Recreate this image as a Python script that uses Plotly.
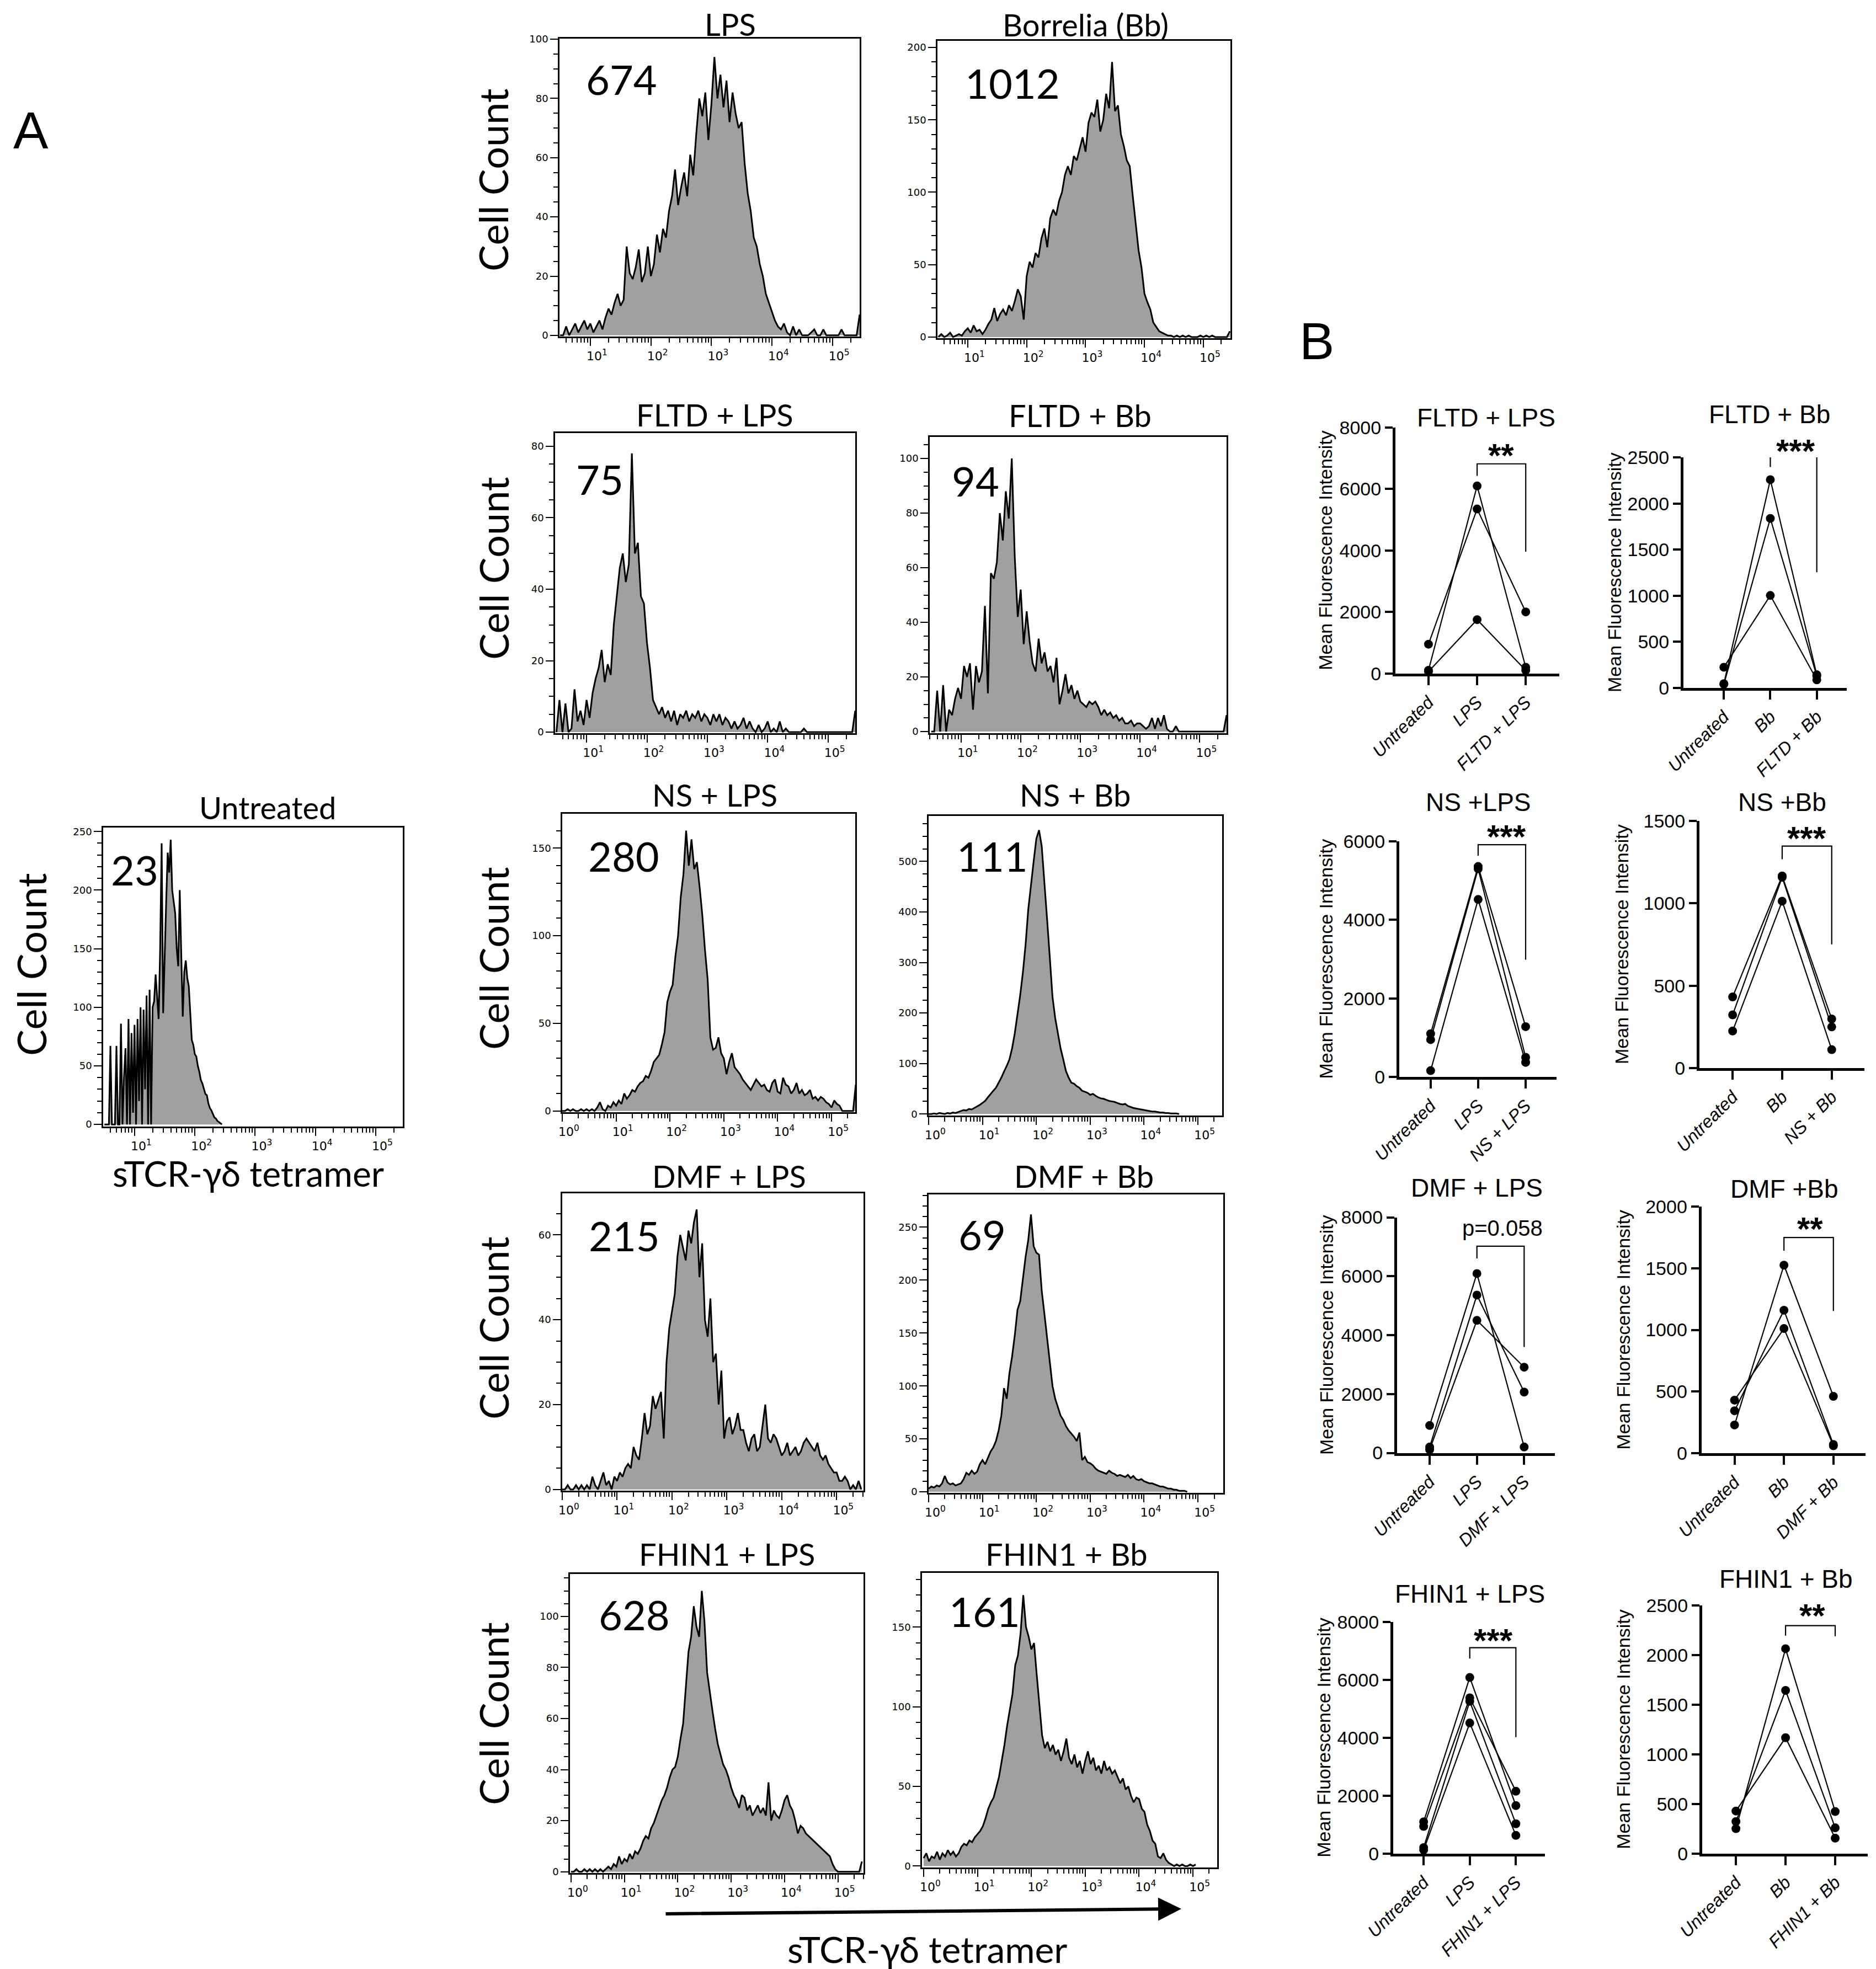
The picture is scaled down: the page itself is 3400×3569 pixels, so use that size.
import math
import plotly.graph_objects as go

W, H = 3400, 3569

# ======================= DATA =======================
# ---- Panel A: sTCR-gd tetramer histograms (cell counts per log10 fluorescence bin) ----
hist_names = ["Untreated", "LPS", "Borrelia (Bb)", "FLTD + LPS", "FLTD + Bb",
              "NS + LPS", "NS + Bb", "DMF + LPS", "DMF + Bb", "FHIN1 + LPS", "FHIN1 + Bb"]
hist_mfi = ["23", "674", "1012", "75", "94", "280", "111", "215", "69", "628", "161"]
hist_log_start = [0.5, 0.5, 0.5, 0.5, 0.5, 0.0, 0.0, 0.0, 0.0, 0.0, 0.0]
hist_log_step = [0.025, 0.05, 0.05, 0.05, 0.05, 0.05, 0.05, 0.05, 0.05, 0.05, 0.05]

counts_untreated = [
    0, 0, 0, 0, 67, 0, 0, 0, 67, 0, 0, 86, 0, 40, 65, 0, 90, 0, 78, 10,
    85, 0, 90, 20, 100, 0, 98, 30, 110, 0, 115, 0,
    100, 105, 128, 110, 90, 150, 240, 95, 150, 190, 232, 215, 243, 200, 190, 180, 150, 135,
    200, 150, 92, 130, 140, 125, 118, 95, 72, 68, 60, 58, 50, 45, 38, 35, 30, 26, 25, 18,
    14, 12, 9, 6, 5, 3, 2, 1, 0]
counts_lps = [
    0, 0, 3, 0, 2, 4, 1, 3, 5, 2,
    4, 1, 3, 5, 2, 6, 9, 7, 11, 14,
    10, 12, 30, 21, 19, 23, 29, 18, 21, 30,
    20, 24, 34, 28, 36, 33, 42, 47, 56, 44,
    50, 55, 47, 61, 54, 68, 80, 74, 82, 66,
    78, 94, 80, 88, 77, 86, 72, 82, 75, 70,
    72, 58, 48, 42, 33, 30, 24, 20, 14, 11,
    8, 5, 3, 2, 4, 1, 0, 3, 0, 2,
    0, 0, 0, 1, 2, 0, 0, 2, 0, 0,
    0, 0, 0, 2, 0, 0, 0, 0, 0, 7]
counts_bb = [
    0, 2, 0, 1, 3, 0, 1, 2, 1, 4,
    6, 3, 8, 4, 5, 2, 5, 9, 12, 20,
    11, 16, 19, 15, 22, 18, 25, 33, 28, 12,
    42, 52, 48, 58, 55, 68, 75, 62, 82, 88,
    84, 94, 100, 112, 118, 112, 125, 122, 130, 138,
    128, 148, 155, 152, 164, 142, 150, 168, 158, 190,
    156, 160, 140, 132, 122, 118, 98, 78, 60, 48,
    30, 24, 19, 10, 7, 4, 3, 2, 1, 1,
    0, 1, 0, 1, 0, 1, 0, 0, 0, 1,
    0, 1, 0, 1, 0, 0, 0, 0, 0, 4]
counts_fltd_lps = [
    0, 9, 0, 8, 0, 1, 12, 3, 6, 2,
    9, 4, 11, 15, 18, 23, 14, 19, 16, 30,
    38, 46, 50, 42, 47, 78, 50, 53, 38, 36,
    25, 18, 9, 7, 5, 7, 4, 6, 3, 6,
    2, 5, 4, 6, 3, 5, 4, 6, 3, 5,
    4, 2, 5, 3, 5, 2, 4, 3, 1, 3,
    1, 2, 4, 1, 3, 1, 0, 2, 0, 1,
    3, 0, 1, 0, 3, 0, 1, 0, 0, 0,
    0, 0, 1, 0, 0, 0, 0, 0, 0, 0,
    0, 0, 0, 0, 0, 0, 0, 0, 0, 6]
counts_fltd_bb = [
    0, 0, 15, 0, 17, 0, 8, 6, 12, 16,
    12, 24, 20, 25, 8, 24, 18, 22, 46, 14,
    58, 56, 62, 80, 70, 88, 78, 100, 64, 42,
    52, 32, 44, 33, 25, 22, 34, 25, 29, 22,
    24, 18, 27, 10, 15, 21, 14, 17, 12, 15,
    11, 10, 9, 11, 10, 11, 9, 6, 8, 6,
    7, 5, 6, 4, 5, 3, 3, 4, 2, 3,
    3, 2, 1, 2, 5, 1, 5, 2, 6, 1,
    0, 0, 2, 0, 0, 0, 0, 0, 0, 0,
    0, 0, 0, 0, 0, 0, 0, 0, 0, 6]
counts_ns_lps = [
    0, 0, 1, 0, 1, 0, 0, 1, 0, 1,
    0, 1, 0, 2, 5, 1, 0, 3, 2, 5,
    3, 6, 4, 10, 7, 9, 12, 11, 14, 16,
    17, 20, 19, 23, 28, 30, 32, 38, 45, 62,
    68, 72, 88, 100, 122, 135, 160, 140, 155, 138,
    142, 128, 112, 92, 75, 42, 35, 36, 42, 33,
    30, 21, 28, 33, 25, 23, 21, 18, 16, 14,
    12, 15, 18, 16, 14, 15, 12, 11, 16, 18,
    11, 10, 19, 15, 14, 10, 12, 16, 10, 12,
    9, 10, 12, 7, 8, 6, 8, 7, 5, 4,
    2, 6, 4, 3, 0, 0, 0, 0, 0, 15]
counts_ns_bb = [
    0, 0, 1, 0, 2, 1, 0, 2, 1, 3,
    2, 4, 6, 8, 7, 10, 9, 12, 15, 18,
    22, 26, 33, 40, 46, 52, 62, 72, 84, 95,
    108, 130, 160, 195, 235, 280, 335, 405, 455, 500,
    545, 562, 530, 462, 385, 310, 232, 190, 158, 130,
    108, 85, 72, 62, 60, 55, 52, 46, 44, 42,
    38, 40, 36, 33, 31, 30, 28, 26, 25, 24,
    22, 20, 19, 20, 16, 14, 12, 11, 10, 9,
    8, 7, 6, 5, 5, 4, 3, 3, 2, 2,
    1, 1, 1, 0]
counts_dmf_lps = [
    0, 0, 1, 0, 0, 1, 0, 1, 0, 1,
    0, 3, 1, 0, 2, 4, 1, 2, 0, 3,
    2, 4, 3, 5, 6, 5, 10, 8, 7, 12,
    18, 13, 15, 22, 19, 21, 23, 12, 30, 38,
    42, 46, 55, 60, 57, 54, 61, 58, 63, 66,
    50, 58, 40, 36, 45, 30, 32, 20, 28, 12,
    16, 17, 13, 15, 18, 14, 14, 11, 9, 12,
    13, 9, 10, 15, 20, 12, 11, 13, 12, 10,
    8, 9, 11, 8, 9, 10, 8, 9, 11, 12,
    11, 10, 9, 11, 8, 7, 8, 6, 5, 4,
    4, 2, 2, 3, 2, 0, 1, 0, 2, 0]
counts_dmf_bb = [
    3, 5, 4, 6, 5, 8, 15, 9, 7, 8,
    6, 7, 8, 12, 18, 16, 20, 17, 19, 26,
    30, 26, 32, 38, 42, 48, 58, 72, 98, 88,
    112, 128, 148, 172, 180, 200, 222, 238, 262, 232,
    226, 224, 190, 168, 145, 120, 100, 88, 80, 72,
    68, 62, 58, 55, 52, 48, 56, 30, 33, 28,
    27, 25, 22, 20, 19, 18, 17, 20, 18, 17,
    15, 16, 15, 14, 16, 13, 15, 12, 11, 12,
    10, 9, 8, 8, 7, 6, 5, 5, 4, 3,
    3, 2, 2, 1, 1, 1, 0]
counts_fhin_lps = [
    0, 0, 1, 0, 0, 1, 0, 1, 0, 1,
    0, 1, 0, 1, 2, 1, 3, 2, 6, 3,
    5, 4, 7, 5, 8, 7, 9, 12, 14, 13,
    17, 19, 22, 25, 28, 30, 33, 37, 40, 41,
    45, 52, 58, 72, 86, 92, 104, 96, 92, 110,
    98, 78, 70, 63, 56, 50, 46, 42, 40, 37,
    33, 30, 28, 25, 30, 29, 24, 26, 22, 24,
    26, 23, 25, 22, 35, 20, 24, 22, 21, 24,
    28, 30, 26, 24, 20, 15, 18, 17, 15, 14,
    13, 12, 11, 10, 9, 8, 7, 6, 3, 1,
    0, 0, 0, 0, 0, 0, 0, 0, 0, 4]
counts_fhin_bb = [
    5, 8, 3, 6, 5, 9, 4, 8, 6, 10,
    7, 9, 6, 8, 12, 14, 13, 16, 15, 18,
    20, 22, 25, 30, 36, 40, 43, 50, 56, 66,
    76, 88, 98, 108, 126, 132, 146, 170, 150, 144,
    136, 140, 120, 100, 82, 74, 78, 72, 76, 70,
    73, 66, 72, 80, 68, 64, 70, 62, 66, 58,
    66, 72, 64, 68, 60, 63, 58, 66, 60, 62,
    58, 60, 56, 52, 55, 48, 50, 44, 40, 43,
    42, 36, 34, 26, 22, 16, 14, 6, 5, 8,
    4, 2, 1, 0, 1, 0, 1, 0, 0, 1, 0, 1]
hist_counts = [counts_untreated, counts_lps, counts_bb, counts_fltd_lps, counts_fltd_bb,
               counts_ns_lps, counts_ns_bb, counts_dmf_lps, counts_dmf_bb,
               counts_fhin_lps, counts_fhin_bb]
hist_ytick_max = [250, 100, 200, 80, 100, 150, 500, 60, 250, 100, 150]
hist_ytick_step = [50, 20, 50, 20, 20, 50, 100, 20, 50, 20, 50]
hist_yminor_step = [10, 5, 10, 5, 5, 10, 25, 5, 10, 5, 10]
hist_first_decade = [1, 1, 1, 1, 1, 0, 0, 0, 0, 0, 0]

# ---- Panel B: mean fluorescence intensity per donor ----
b_titles = ["FLTD + LPS", "FLTD + Bb", "NS +LPS", "NS +Bb",
            "DMF + LPS", "DMF +Bb", "FHIN1 + LPS", "FHIN1 + Bb"]
b_categories = [["Untreated", "LPS", "FLTD + LPS"], ["Untreated", "Bb", "FLTD + Bb"],
                ["Untreated", "LPS", "NS + LPS"], ["Untreated", "Bb", "NS + Bb"],
                ["Untreated", "LPS", "DMF + LPS"], ["Untreated", "Bb", "DMF + Bb"],
                ["Untreated", "LPS", "FHIN1 + LPS"], ["Untreated", "Bb", "FHIN1 + Bb"]]
b_values = [
    [[950, 5350, 2000], [100, 6100, 200], [60, 1750, 100]],
    [[225, 1003, 88], [47, 2258, 143], [40, 1838, 130]],
    [[1100, 5360, 1280], [950, 5300, 500], [160, 4520, 370]],
    [[432, 1166, 298], [323, 1158, 250], [225, 1013, 112]],
    [[930, 6090, 200], [200, 5360, 2065], [110, 4500, 2910]],
    [[230, 1524, 462], [345, 1159, 72], [431, 1011, 62]],
    [[1095, 6082, 1656], [936, 5380, 2152], [206, 5259, 1029], [122, 4510, 627]],
    [[251, 2064, 423], [322, 1644, 259], [428, 1167, 155]],
]
b_ymax = [8000, 2500, 6000, 1500, 8000, 2000, 8000, 2500]
b_ystep = [2000, 500, 2000, 500, 2000, 500, 2000, 500]
sig_text = ["**", "***", "***", "***", "p=0.058", "**", "***", "**"]
sig_top = [6820, 2527, 5914, 1347, 7019, 1748, 7111, 2296]
sig_left_end = [6430, 2395, 5635, 1267, 6606, 1641, 6737, 2195]
sig_right_end = [3960, 1255, 2985, 751, 3596, 1153, 4023, 2190]

# ======================= LAYOUT (pixel positions) =======================
HIST_BOX = [(179, 722, 1492, 2034), (1006, 1550, 62, 602), (1691, 2222, 66, 605),
            (998, 1542, 777, 1321), (1677, 2215, 784, 1321),
            (1011, 1542, 1467, 2008), (1675, 2207, 1471, 2014),
            (1011, 1557, 2155, 2694), (1675, 2209, 2157, 2698),
            (1025, 1557, 2845, 3387), (1663, 2198, 2843, 3377)]
HIST_XRANGE = [[0.48, 5.45], [0.49, 5.45], [0.485, 5.46], [0.478, 5.45], [0.475, 5.45],
               [0, 5.44], [0, 5.45], [0, 5.49], [0, 5.47], [-0.02, 5.48], [-0.03, 5.45]]
HIST_YRANGE = [[-1.8, 253.4], [-0.4, 100.2], [-0.8, 204.6], [-0.3, 83.7], [-0.6, 107.9],
               [-0.7, 169.6], [-3, 590], [-0.3, 69.8], [-1, 281], [-0.5, 116.6], [-0.9, 184]]
HIST_TITLE_XY = [(477, 1455), (1315, 36), (1960, 37), (1287, 743), (1950, 745), (1287, 1432),
                 (1940, 1432), (1313, 2123), (1956, 2123), (1309, 2808), (1925, 2808)]
MFI_XY = [(236, 1568), (1118, 136), (1827, 142), (1079, 860), (1760, 863), (1122, 1543),
          (1790, 1544), (1123, 2231), (1772, 2229), (1141, 2918), (1776, 2912)]
CELLCOUNT_XY = [(48, 1740), (885, 318), (886, 1022), (886, 1729), (886, 2399), (886, 3098)]

B_BOX = [(2521, 2818, 767, 1212.6), (3043, 3339, 821, 1239), (2528, 2813, 1517, 1944),
         (3072, 3371, 1480, 1928), (2524, 2810, 2198.5, 2625.5), (3075.6, 3373, 2178.7, 2626.4),
         (2517, 2792, 2932, 3351.7), (3077, 3376.5, 2902, 3351.7)]
B_XRANGE = [[-0.68, 2.69], [-0.87, 2.645], [-0.66, 2.65], [-0.67, 2.66],
            [-0.69, 2.65], [-0.67, 2.65], [-0.66, 2.63], [-0.68, 2.65]]
B_TITLE_XY = [(2685, 749), (3199, 743), (2671, 1446), (3222, 1446),
              (2668, 2145), (3226, 2147), (2656, 2881), (3229, 2854)]
B_YTITLE_X = [2394, 2918, 2394, 2931, 2396, 2934, 2391, 2934]
SIG_XY = [(2712, 804), (3246, 796), (2722, 1495), (3266, 1498),
          (2715, 2218), (3272, 2206), (2698, 2952), (3276, 2907)]

FONT_A = "Lato, Open Sans, sans-serif"
FONT_B = "Liberation Sans, Arial, sans-serif"
FONT_TICK = "DejaVu Sans, sans-serif"
GRAY = "#a0a0a0"


def px(x):
    return x / W


def py(y):
    return 1 - y / H


fig = go.Figure()
annotations = []


def ann(text, x, y, size, family=FONT_A, angle=0, **kw):
    d = dict(text=text, x=px(x), y=py(y), xref="paper", yref="paper", showarrow=False,
             xanchor="center", yanchor="middle", textangle=angle,
             font=dict(family=family, size=size, color="black"))
    d.update(kw)
    annotations.append(d)


layout = dict(width=W, height=H, autosize=False,
              margin=dict(l=0, r=0, t=0, b=0, pad=0, autoexpand=False),
              paper_bgcolor="white", plot_bgcolor="white", showlegend=False)

# ---------------- Panel A histograms ----------------
for i in range(11):
    n = i + 1
    s = "" if n == 1 else str(n)
    x0, x1, y0, y1 = HIST_BOX[i]
    start, step = hist_log_start[i], hist_log_step[i]
    cnt = hist_counts[i]
    xs = [10 ** (start + k * step) for k in range(len(cnt))]
    fig.add_trace(go.Scatter(x=xs, y=cnt, mode="lines", fill="tozeroy", fillcolor=GRAY,
                             line=dict(color="black", width=3), xaxis="x" + s, yaxis="y" + s,
                             hoverinfo="skip"))
    lo, hi = HIST_XRANGE[i]
    decades = list(range(hist_first_decade[i], 6))
    minor_x = [m * 10 ** k for k in range(-1, 6) for m in range(2, 10)
               if lo < math.log10(m * 10 ** k) < hi]
    layout["xaxis" + s] = dict(
        domain=[px(x0), px(x1)], anchor="y" + s, type="log", range=HIST_XRANGE[i],
        automargin=False,
        showline=True, linecolor="black", linewidth=2.5, mirror=True,
        showgrid=False, zeroline=False, ticks="outside", ticklen=14, tickwidth=2,
        tickcolor="black", tickmode="array", tickvals=[10 ** d for d in decades],
        ticktext=["10<sup>%d</sup>" % d for d in decades], ticklabelshift=12,
        tickfont=dict(family=FONT_TICK, size=22, color="black"),
        minor=dict(tickmode="array", tickvals=minor_x, ticks="outside", ticklen=8,
                   tickwidth=1.5, tickcolor="black"))
    ymaj = list(range(0, hist_ytick_max[i] + 1, hist_ytick_step[i]))
    ymin = [v for v in range(0, int(HIST_YRANGE[i][1]) + 1, hist_yminor_step[i])]
    layout["yaxis" + s] = dict(
        domain=[py(y1), py(y0)], anchor="x" + s, range=HIST_YRANGE[i],
        automargin=False,
        showline=True, linecolor="black", linewidth=2.5, mirror=True,
        showgrid=False, zeroline=False, ticks="outside", ticklen=14, tickwidth=2,
        tickcolor="black", tickmode="array", tickvals=ymaj,
        tickfont=dict(family=FONT_TICK, size=18, color="black"),
        minor=dict(tickmode="array", tickvals=ymin, ticks="outside", ticklen=8,
                   tickwidth=1.5, tickcolor="black"))
    ann(hist_names[i], HIST_TITLE_XY[i][0], HIST_TITLE_XY[i][1], 56)
    ann(hist_mfi[i], MFI_XY[i][0], MFI_XY[i][1], 74)

for (cx, cy) in CELLCOUNT_XY:
    ann("Cell Count", cx, cy, 72, angle=-90)

ann("sTCR-γδ tetramer", 442, 2118, 64)
ann("sTCR-γδ tetramer", 1672, 3524, 66)
ann("A", 48, 228, 95, family=FONT_B)
ann("B", 2378, 610, 95, family=FONT_B)
# axis arrow under the bottom row
annotations.append(dict(x=px(2133), y=py(3452), xref="paper", yref="paper", text="",
                        showarrow=True, ax=1197 - 2133, ay=3461 - 3452, arrowhead=2,
                        arrowsize=1.4, arrowwidth=6, arrowcolor="black"))

# ---------------- Panel B line plots ----------------
for j in range(8):
    n = 12 + j
    s = str(n)
    x0, x1, y0, y1 = B_BOX[j]
    for series in b_values[j]:
        fig.add_trace(go.Scatter(x=[0, 1, 2], y=series, mode="lines+markers",
                                 line=dict(color="black", width=2.2),
                                 marker=dict(color="black", size=16),
                                 xaxis="x" + s, yaxis="y" + s, cliponaxis=False,
                                 hoverinfo="skip"))
    fig.add_trace(go.Scatter(x=[1, 1, 2, 2],
                             y=[sig_left_end[j], sig_top[j], sig_top[j], sig_right_end[j]],
                             mode="lines", line=dict(color="black", width=2.2),
                             xaxis="x" + s, yaxis="y" + s, cliponaxis=False, hoverinfo="skip"))
    layout["xaxis" + s] = dict(
        domain=[px(x0), px(x1)], anchor="y" + s, range=B_XRANGE[j], automargin=False,
        showline=True, linecolor="black", linewidth=5, showgrid=False, zeroline=False,
        ticks="outside", ticklen=16, tickwidth=4, tickcolor="black",
        tickmode="array", tickvals=[0, 1, 2],
        ticktext=["<i>%s</i>" % c for c in b_categories[j]], tickangle=-45,
        tickfont=dict(family=FONT_B, size=32, color="black"))
    layout["yaxis" + s] = dict(
        domain=[py(y1), py(y0)], anchor="x" + s, range=[0, b_ymax[j]], automargin=False,
        showline=True, linecolor="black", linewidth=5, showgrid=False, zeroline=False,
        ticks="outside", ticklen=14, tickwidth=4, tickcolor="black",
        tickmode="array", tickvals=list(range(0, b_ymax[j] + 1, b_ystep[j])),
        tickfont=dict(family=FONT_B, size=34, color="black"))
    ann(b_titles[j], B_TITLE_XY[j][0], B_TITLE_XY[j][1], 46, family=FONT_B,
        height=40, valign="middle")
    ann("Mean Fluorescence Intensity", B_YTITLE_X[j], (y0 + y1) / 2, 34,
        family=FONT_B, angle=-90)
    if sig_text[j].startswith("p"):
        ann(sig_text[j], SIG_XY[j][0], SIG_XY[j][1], 40, family=FONT_B)
    else:
        # box trimmed to the asterisk glyphs (which sit high in the text line)
        ann("<b>%s</b>" % sig_text[j], SIG_XY[j][0], SIG_XY[j][1] + 13, 60,
            family=FONT_B, height=48, valign="middle")

layout["annotations"] = annotations
fig.update_layout(**layout)
fig.write_html("out.html")
